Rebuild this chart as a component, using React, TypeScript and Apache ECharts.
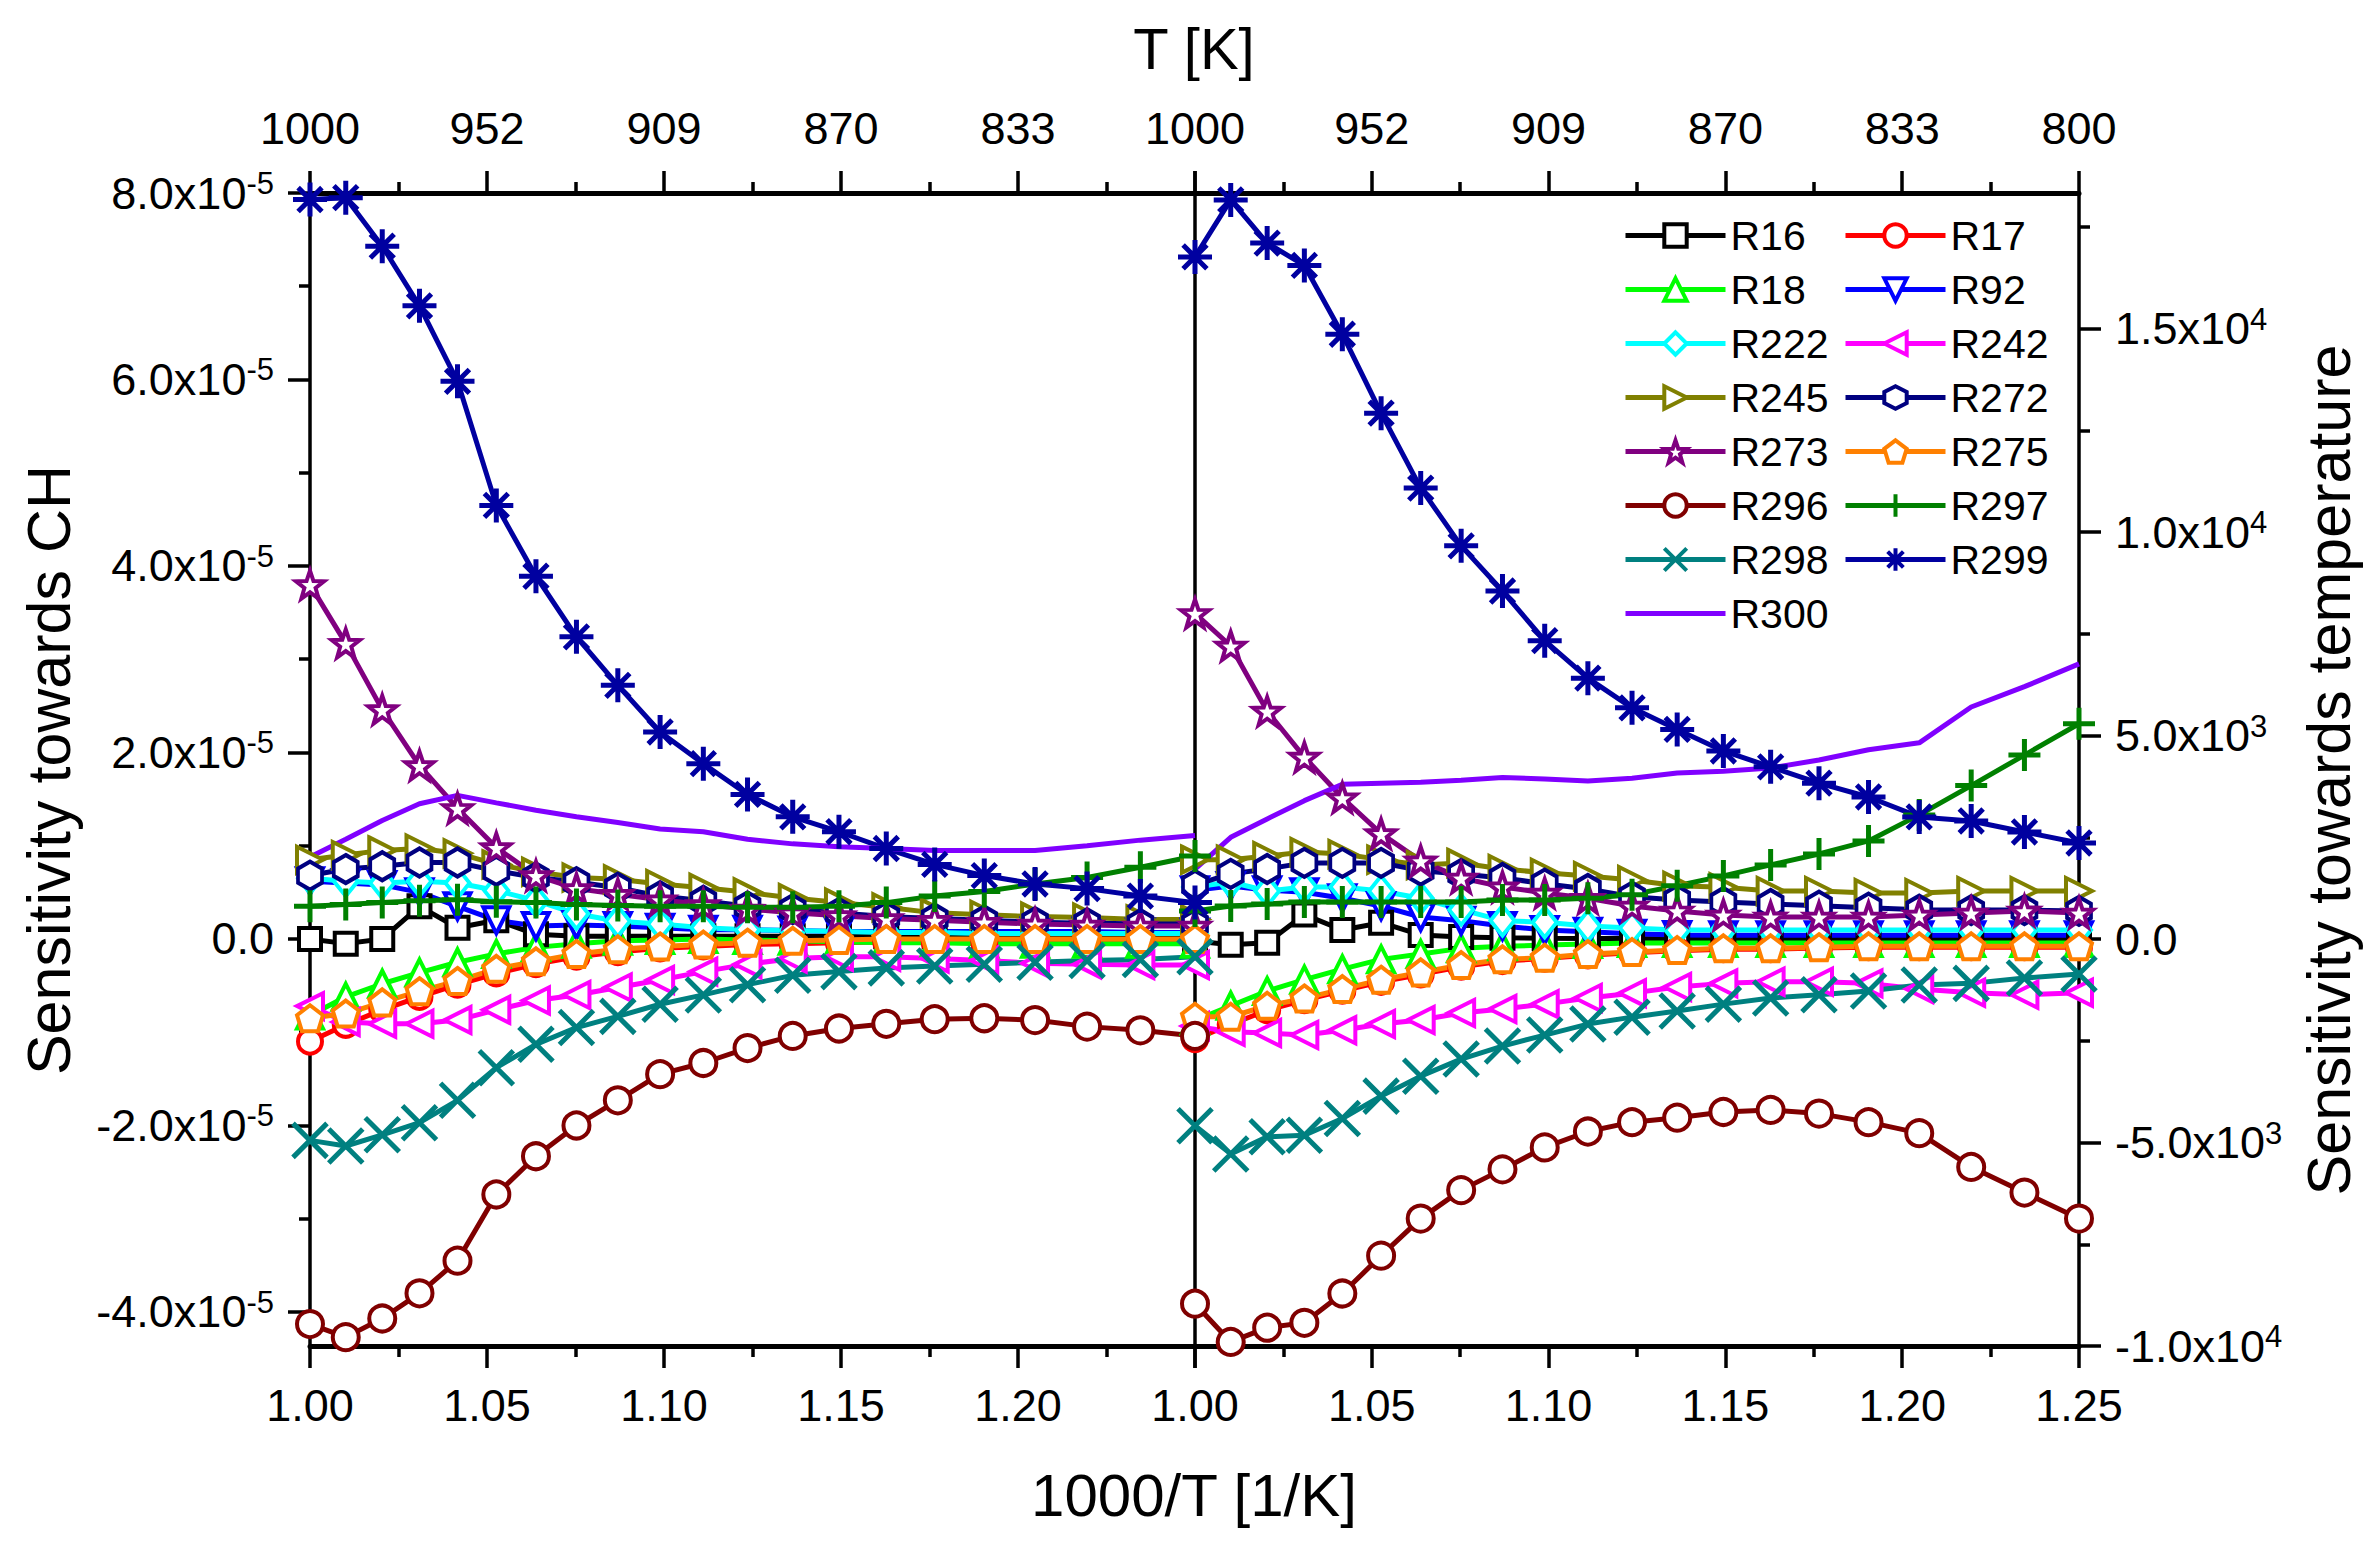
import React, { useEffect, useRef } from 'react';
import * as echarts from 'echarts';

const FONT = 'Liberation Sans, Arial, Helvetica, sans-serif';

// Temperatures of the data points [K]; x = 1000/T
const temperatures = [1000, 990, 980, 970, 960, 950, 940, 930, 920, 910, 900, 890, 880, 870, 860, 850, 840, 830, 820, 810, 800];

// Axis tick values
const bottomTickLabels = ['1.00', '1.05', '1.10', '1.15', '1.20', '1.25'];
const chMajorTicks = [-4e-5, -2e-5, 0, 2e-5, 4e-5, 6e-5, 8e-5];
const chMinorTicks = [-3e-5, -1e-5, 1e-5, 3e-5, 5e-5, 7e-5];
const tMajorTicks = [-1e4, -5e3, 0, 5e3, 1e4, 1.5e4];
const tMinorTicks = [-7500, -2500, 2500, 7500, 12500, 17500];
const chRange = [-4.365e-5, 8e-5];
const tRange = [-1e4, 18330];

// Sensitivity towards CH (units of 1e-5), left panel
const chR16 = [0.0, -0.05, 0.0, 0.35, 0.12, 0.2, 0.05, 0.03, 0.03, 0.03, 0.03, 0.03, 0.03, 0.03, 0.03, 0.03, 0.03, 0.03, 0.03, 0.03, 0.03];
const chR17 = [-1.1, -0.92, -0.76, -0.62, -0.49, -0.37, -0.27, -0.19, -0.14, -0.1, -0.08, -0.06, -0.05, -0.04, -0.03, -0.03, -0.03, -0.03, -0.03, -0.03, -0.03];
const chR18 = [-0.82, -0.62, -0.48, -0.36, -0.25, -0.16, -0.09, -0.05, -0.02, -0.01, 0.0, -0.01, -0.02, -0.03, -0.04, -0.04, -0.05, -0.05, -0.05, -0.05, -0.05];
const chR92 = [0.62, 0.6, 0.58, 0.5, 0.35, 0.2, 0.14, 0.15, 0.14, 0.12, 0.1, 0.1, 0.09, 0.08, 0.08, 0.08, 0.08, 0.08, 0.08, 0.07, 0.07];
const chR222 = [0.65, 0.62, 0.6, 0.62, 0.6, 0.52, 0.41, 0.27, 0.19, 0.16, 0.12, 0.1, 0.09, 0.08, 0.07, 0.07, 0.06, 0.06, 0.06, 0.06, 0.06];
const chR242 = [-0.72, -0.89, -0.91, -0.91, -0.87, -0.76, -0.66, -0.6, -0.52, -0.44, -0.35, -0.27, -0.21, -0.19, -0.19, -0.21, -0.23, -0.26, -0.27, -0.28, -0.28];
const chR245 = [0.85, 0.9, 0.95, 0.97, 0.92, 0.8, 0.72, 0.66, 0.64, 0.59, 0.55, 0.5, 0.44, 0.39, 0.34, 0.28, 0.26, 0.24, 0.23, 0.21, 0.21];
const chR272 = [0.68, 0.75, 0.78, 0.82, 0.82, 0.73, 0.66, 0.61, 0.55, 0.46, 0.41, 0.35, 0.32, 0.28, 0.24, 0.22, 0.2, 0.18, 0.17, 0.16, 0.16];
const chR273 = [3.8, 3.17, 2.46, 1.86, 1.4, 0.98, 0.68, 0.54, 0.48, 0.42, 0.37, 0.32, 0.28, 0.25, 0.22, 0.2, 0.18, 0.16, 0.15, 0.14, 0.14];
const chR275 = [-0.85, -0.8, -0.68, -0.56, -0.45, -0.32, -0.24, -0.16, -0.11, -0.08, -0.06, -0.04, -0.02, -0.01, 0.0, 0.0, 0.0, 0.0, 0.0, 0.0, 0.0];
const chR296 = [-4.13, -4.27, -4.07, -3.8, -3.45, -2.74, -2.33, -2.0, -1.73, -1.45, -1.33, -1.17, -1.04, -0.96, -0.91, -0.86, -0.85, -0.87, -0.94, -0.98, -1.04];
const chR297 = [0.35, 0.37, 0.39, 0.41, 0.42, 0.4, 0.39, 0.37, 0.36, 0.35, 0.35, 0.34, 0.34, 0.35, 0.39, 0.46, 0.51, 0.59, 0.66, 0.77, 0.89];
const chR298 = [-2.16, -2.22, -2.1, -1.97, -1.73, -1.38, -1.13, -0.95, -0.83, -0.7, -0.6, -0.49, -0.39, -0.35, -0.31, -0.29, -0.27, -0.25, -0.23, -0.22, -0.19];
const chR299 = [7.93, 7.95, 7.43, 6.79, 5.98, 4.65, 3.89, 3.24, 2.72, 2.22, 1.88, 1.55, 1.31, 1.15, 0.97, 0.8, 0.68, 0.59, 0.54, 0.46, 0.39];
const chR300 = [0.88, 1.07, 1.27, 1.45, 1.54, 1.46, 1.38, 1.31, 1.25, 1.18, 1.15, 1.07, 1.02, 0.99, 0.97, 0.95, 0.95, 0.95, 1.0, 1.06, 1.11];

// Sensitivity towards temperature (units of 1e3), right panel
const tR16 = [-0.05, -0.14, -0.09, 0.6, 0.22, 0.4, 0.1, 0.05, 0.03, 0.02, 0.01, 0.01, 0.0, 0.0, 0.0, 0.0, 0.0, 0.0, 0.0, 0.0, 0.0];
const tR17 = [-2.46, -2.1, -1.75, -1.5, -1.27, -1.05, -0.87, -0.68, -0.54, -0.48, -0.4, -0.34, -0.29, -0.25, -0.25, -0.22, -0.2, -0.2, -0.2, -0.2, -0.2];
const tR18 = [-2.0, -1.64, -1.28, -1.0, -0.74, -0.5, -0.37, -0.23, -0.18, -0.15, -0.12, -0.1, -0.1, -0.1, -0.1, -0.1, -0.1, -0.1, -0.1, -0.1, -0.1];
const tR92 = [1.2, 1.3, 1.2, 1.15, 1.0, 0.81, 0.54, 0.45, 0.32, 0.22, 0.18, 0.13, 0.1, 0.09, 0.09, 0.09, 0.09, 0.09, 0.09, 0.09, 0.09];
const tR222 = [1.28, 1.4, 1.18, 1.28, 1.28, 1.18, 1.0, 0.72, 0.45, 0.41, 0.32, 0.27, 0.22, 0.22, 0.22, 0.22, 0.22, 0.22, 0.22, 0.22, 0.22];
const tR242 = [-2.14, -2.28, -2.31, -2.36, -2.24, -2.09, -1.99, -1.82, -1.72, -1.6, -1.45, -1.33, -1.18, -1.09, -1.05, -1.05, -1.09, -1.23, -1.32, -1.37, -1.32];
const tR245 = [1.95, 1.95, 2.04, 2.14, 2.09, 1.95, 1.82, 1.87, 1.72, 1.63, 1.55, 1.45, 1.31, 1.27, 1.18, 1.18, 1.13, 1.13, 1.18, 1.18, 1.18];
const tR272 = [1.33, 1.6, 1.72, 1.87, 1.87, 1.87, 1.68, 1.6, 1.5, 1.36, 1.23, 1.04, 0.96, 0.91, 0.86, 0.82, 0.77, 0.72, 0.71, 0.71, 0.69];
const tR273 = [8.0, 7.2, 5.6, 4.47, 3.47, 2.59, 1.92, 1.5, 1.28, 1.13, 1.0, 0.81, 0.69, 0.59, 0.54, 0.54, 0.54, 0.59, 0.64, 0.69, 0.64];
const tR275 = [-1.91, -1.91, -1.64, -1.46, -1.23, -1.0, -0.82, -0.64, -0.5, -0.46, -0.37, -0.32, -0.27, -0.23, -0.23, -0.2, -0.18, -0.18, -0.18, -0.18, -0.18];
const tR296 = [-8.96, -9.9, -9.55, -9.43, -8.71, -7.78, -6.87, -6.17, -5.66, -5.12, -4.73, -4.5, -4.39, -4.25, -4.2, -4.29, -4.5, -4.77, -5.6, -6.23, -6.87];
const tR297 = [0.69, 0.81, 0.86, 0.91, 0.91, 0.91, 0.91, 0.91, 0.96, 0.96, 1.0, 1.09, 1.31, 1.55, 1.82, 2.09, 2.41, 3.05, 3.77, 4.52, 5.29];
const tR298 = [-4.59, -5.28, -4.86, -4.82, -4.41, -3.86, -3.37, -2.95, -2.63, -2.36, -2.09, -1.92, -1.77, -1.6, -1.45, -1.37, -1.28, -1.13, -1.09, -0.96, -0.86];
const tR299 = [16.76, 18.16, 17.1, 16.55, 14.86, 12.92, 11.08, 9.66, 8.55, 7.33, 6.41, 5.68, 5.15, 4.62, 4.23, 3.83, 3.49, 3.0, 2.9, 2.63, 2.36];
const tR300 = [1.72, 2.5, 2.95, 3.4, 3.8, 3.83, 3.85, 3.9, 3.97, 3.93, 3.88, 3.95, 4.08, 4.12, 4.2, 4.4, 4.65, 4.82, 5.7, 6.2, 6.76];

// Marker shapes
const TRI_DOWN = 'path://M0,0L100,0L50,87Z';
const TRI_LEFT = 'path://M87,0L87,100L0,50Z';
const TRI_RIGHT = 'path://M0,0L87,50L0,100Z';
const HEXAGON = 'path://M50,0L93,25L93,75L50,100L7,75L7,25Z';
const STAR = 'path://M50,0L61.8,33.8L97.6,34.5L69,56.2L79.4,90.5L50,70L20.6,90.5L31,56.2L2.4,34.5L38.2,33.8Z';
const PENTAGON = 'path://M50,0L97.6,34.5L79.4,90.5L20.6,90.5L2.4,34.5Z';
const PLUS = 'path://M50,0L50,100M0,50L100,50';
const CROSS = 'path://M0,0L100,100M100,0L0,100';
const ASTERISK = 'path://M50,0L50,100M0,50L100,50M15,15L85,85M85,15L15,85';

const seriesDefs = [
  { name: 'R16', color: '#000000', symbol: 'rect', size: 22, open: true, ch: chR16, t: tR16 },
  { name: 'R17', color: '#FF0000', symbol: 'circle', size: 24, open: true, ch: chR17, t: tR17 },
  { name: 'R18', color: '#00FF00', symbol: 'triangle', size: 26, open: true, ch: chR18, t: tR18 },
  { name: 'R92', color: '#0000FF', symbol: TRI_DOWN, size: 26, open: true, ch: chR92, t: tR92 },
  { name: 'R222', color: '#00FFFF', symbol: 'diamond', size: [24, 30], open: true, ch: chR222, t: tR222 },
  { name: 'R242', color: '#FF00FF', symbol: TRI_LEFT, size: 26, open: true, ch: chR242, t: tR242 },
  { name: 'R245', color: '#808000', symbol: TRI_RIGHT, size: 26, open: true, ch: chR245, t: tR245 },
  { name: 'R272', color: '#000080', symbol: HEXAGON, size: [24, 28], open: true, ch: chR272, t: tR272 },
  { name: 'R273', color: '#800080', symbol: STAR, size: 28, open: true, ch: chR273, t: tR273 },
  { name: 'R275', color: '#FF8000', symbol: PENTAGON, size: 26, open: true, ch: chR275, t: tR275 },
  { name: 'R296', color: '#800000', symbol: 'circle', size: 26, open: true, ch: chR296, t: tR296 },
  { name: 'R297', color: '#008000', symbol: PLUS, size: 32, open: false, ch: chR297, t: tR297 },
  { name: 'R298', color: '#008080', symbol: CROSS, size: 34, open: false, ch: chR298, t: tR298 },
  { name: 'R299', color: '#0000A0', symbol: ASTERISK, size: 34, open: false, ch: chR299, t: tR299 },
  { name: 'R300', color: '#8000FF', symbol: 'none', size: 0, open: false, ch: chR300, t: tR300 },
];

const X_AXIS_LINE = { color: '#000', width: 5 };
const Y_AXIS_LINE = { color: '#000', width: 3.5 };
const TICK_LINE = { color: '#000', width: 3.5 };

function sciLabel(v: number): string {
  if (Math.abs(v) < 1e-20) return '{b|0.0}';
  const e = Math.floor(Math.log10(Math.abs(v)) + 1e-9);
  const m = v / Math.pow(10, e);
  return `{b|${m.toFixed(1)}x10}{s|${e}}`;
}

const rich = {
  b: { fontSize: 45, fontFamily: FONT, color: '#000', lineHeight: 50 },
  s: { fontSize: 31, fontFamily: FONT, color: '#000', lineHeight: 32, verticalAlign: 'top' },
};

function xAxisDef(gridIndex: number, position: 'top' | 'bottom', hideMax: boolean) {
  return {
    type: 'value',
    gridIndex,
    position,
    min: 1,
    max: 1.25,
    interval: 0.05,
    axisLine: { show: true, onZero: false, lineStyle: X_AXIS_LINE },
    axisTick: { show: true, inside: false, length: 22, lineStyle: TICK_LINE },
    minorTick: { show: true, splitNumber: 2, length: 11, lineStyle: TICK_LINE },
    splitLine: { show: false },
    minorSplitLine: { show: false },
    axisLabel: {
      show: true,
      showMaxLabel: !hideMax,
      showMinLabel: true,
      margin: position === 'top' ? 42 : 37,
      fontSize: 45,
      fontFamily: FONT,
      color: '#000',
      formatter: (v: number) => {
        if (position === 'top') return String(Math.round(1000 / v));
        const idx = Math.round((v - 1) / 0.05);
        return bottomTickLabels[idx] ?? v.toFixed(2);
      },
    },
  };
}

function yMajor(gridIndex: number, position: 'left' | 'right', range: number[], ticks: number[]) {
  return {
    type: 'value',
    gridIndex,
    position,
    min: range[0],
    max: range[1],
    axisLine: { show: true, onZero: false, lineStyle: Y_AXIS_LINE },
    axisTick: { show: true, inside: false, length: 22, lineStyle: TICK_LINE, customValues: ticks },
    splitLine: { show: false },
    axisLabel: {
      show: true,
      customValues: ticks,
      margin: 36,
      fontSize: 45,
      fontFamily: FONT,
      color: '#000',
      formatter: (v: number) => sciLabel(v),
      rich,
    },
  };
}

function yMinor(gridIndex: number, position: 'left' | 'right', range: number[], ticks: number[]) {
  return {
    type: 'value',
    gridIndex,
    position,
    min: range[0],
    max: range[1],
    axisLine: { show: false },
    axisTick: { show: true, inside: false, length: 11, lineStyle: TICK_LINE, customValues: ticks },
    splitLine: { show: false },
    axisLabel: { show: false },
  };
}

function buildOption() {
  const series: any[] = [];
  seriesDefs.forEach((d) => {
    const common = {
      type: 'line',
      name: d.name,
      symbol: d.symbol,
      symbolSize: d.size,
      showSymbol: d.symbol !== 'none',
      clip: true,
      silent: true,
      lineStyle: { color: d.color, width: 5 },
      itemStyle: { color: d.open ? '#ffffff' : d.color, borderColor: d.color, borderWidth: d.open ? 4 : 5 },
      emphasis: { disabled: true },
    };
    series.push({
      ...common,
      xAxisIndex: 0,
      yAxisIndex: 0,
      data: temperatures.map((t, i) => [1000 / t, d.ch[i] * 1e-5]),
    });
    series.push({
      ...common,
      xAxisIndex: 2,
      yAxisIndex: 2,
      data: temperatures.map((t, i) => [1000 / t, d.t[i] * 1e3]),
    });
  });

  const legendCommon = {
    orient: 'vertical',
    top: 215,
    padding: 0,
    itemWidth: 100,
    itemHeight: 28,
    itemGap: 13,
    selectedMode: false,
    itemStyle: { borderWidth: 4 },
    lineStyle: { width: 5 },
    textStyle: { fontSize: 41, fontFamily: FONT, color: '#000', lineHeight: 40 },
  };

  return {
    animation: false,
    backgroundColor: '#ffffff',
    textStyle: { fontFamily: FONT },
    grid: [
      { left: 310, top: 193, width: 885, height: 1153, containLabel: false },
      { left: 1195, top: 193, width: 884, height: 1153, containLabel: false },
    ],
    xAxis: [
      xAxisDef(0, 'bottom', true),
      xAxisDef(0, 'top', true),
      xAxisDef(1, 'bottom', false),
      xAxisDef(1, 'top', false),
    ],
    yAxis: [
      yMajor(0, 'left', chRange, chMajorTicks),
      yMinor(0, 'left', chRange, chMinorTicks),
      yMajor(1, 'right', tRange, tMajorTicks),
      yMinor(1, 'right', tRange, tMinorTicks),
      {
        type: 'value',
        gridIndex: 1,
        position: 'left',
        min: tRange[0],
        max: tRange[1],
        axisLine: { show: true, onZero: false, lineStyle: Y_AXIS_LINE },
        axisTick: { show: false },
        axisLabel: { show: false },
        splitLine: { show: false },
      },
    ],
    legend: [
      {
        ...legendCommon,
        left: 1623,
        data: ['R16', 'R18', 'R222', 'R245', 'R273', 'R296', 'R298', { name: 'R300', itemStyle: { opacity: 0 } }],
      },
      {
        ...legendCommon,
        left: 1843,
        data: ['R17', 'R92', 'R242', 'R272', 'R275', 'R297', 'R299'],
      },
    ],
    graphic: [
      {
        type: 'text', x: 1194, y: 48, silent: true,
        style: { text: 'T [K]', fontSize: 58, fontFamily: FONT, fill: '#000', align: 'center', verticalAlign: 'middle' },
      },
      {
        type: 'text', x: 1194, y: 1495, silent: true,
        style: { text: '1000/T [1/K]', fontSize: 60, fontFamily: FONT, fill: '#000', align: 'center', verticalAlign: 'middle' },
      },
      {
        type: 'text', x: 49, y: 770, rotation: Math.PI / 2, silent: true,
        style: { text: 'Sensitivity towards CH', fontSize: 61, fontFamily: FONT, fill: '#000', align: 'center', verticalAlign: 'middle' },
      },
      {
        type: 'text', x: 2329, y: 770, rotation: Math.PI / 2, silent: true,
        style: { text: 'Sensitivity towards temperature', fontSize: 61, fontFamily: FONT, fill: '#000', align: 'center', verticalAlign: 'middle' },
      },
    ],
    series,
  };
}

export default function App() {
  const ref = useRef<HTMLDivElement>(null);
  useEffect(() => {
    if (!ref.current) return;
    const chart = echarts.init(ref.current, null, { renderer: 'svg' });
    chart.setOption(buildOption() as any);
    return () => {
      chart.dispose();
    };
  }, []);
  return (
    <div
      ref={ref}
      style={{ position: 'absolute', left: 0, top: 0, width: 2371, height: 1547, background: '#ffffff' }}
    />
  );
}
